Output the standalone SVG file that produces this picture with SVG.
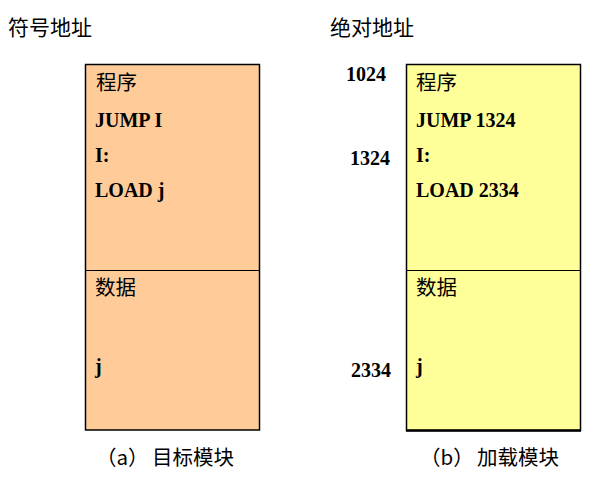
<svg xmlns="http://www.w3.org/2000/svg" width="598" height="478" viewBox="0 0 598 478">
<style>
.cjk{font-family:"Noto Sans CJK SC","Noto Sans CJK JP",serif;font-size:20.5px;fill:#000}
.lat{font-family:"Liberation Serif","Times New Roman",serif;font-weight:bold;font-size:20px;fill:#000}
.box{stroke:#000;stroke-width:1.5}
.div{stroke:#000;stroke-width:1.2}
</style>
<rect width="598" height="478" fill="#fff"/>
<text class="cjk" x="8" y="35" style="font-size:21px">符号地址</text>
<text class="cjk" x="330" y="35" style="font-size:21px">绝对地址</text>
<g id="object-module">
<rect class="box" x="85.5" y="64.5" width="174" height="365.5" fill="#FFCC99"/>
<line class="div" x1="85.5" y1="270.5" x2="259.5" y2="270.5"/>
<text class="cjk" x="96" y="90">程序</text>
<text class="lat" x="95" y="127">JUMP I</text>
<text class="lat" x="95" y="162">I:</text>
<text class="lat" x="95" y="197">LOAD j</text>
<text class="cjk" x="95" y="295">数据</text>
<text class="lat" x="95" y="373">j</text>
<text class="cjk" x="96" y="465">（a）<tspan x="152">目标模块</tspan></text>
</g>
<g id="load-module">
<rect class="box" x="406.5" y="64.5" width="174" height="366" fill="#FFFF99"/>
<line x1="406" y1="430.5" x2="581" y2="430.5" stroke="#000" stroke-width="2.5"/>
<line class="div" x1="406.5" y1="270.5" x2="580.5" y2="270.5"/>
<text class="cjk" x="416" y="90">程序</text>
<text class="lat" x="416" y="127">JUMP 1324</text>
<text class="lat" x="416" y="162">I:</text>
<text class="lat" x="416" y="197">LOAD 2334</text>
<text class="cjk" x="416" y="295">数据</text>
<text class="lat" x="416" y="373">j</text>
<text class="cjk" x="420" y="465">（b）<tspan x="477">加载模块</tspan></text>
</g>
<g id="addresses">
<text class="lat" x="346" y="81">1024</text>
<text class="lat" x="350" y="165">1324</text>
<text class="lat" x="351" y="377">2334</text>
</g>
<g id="connectors"></g>
</svg>
